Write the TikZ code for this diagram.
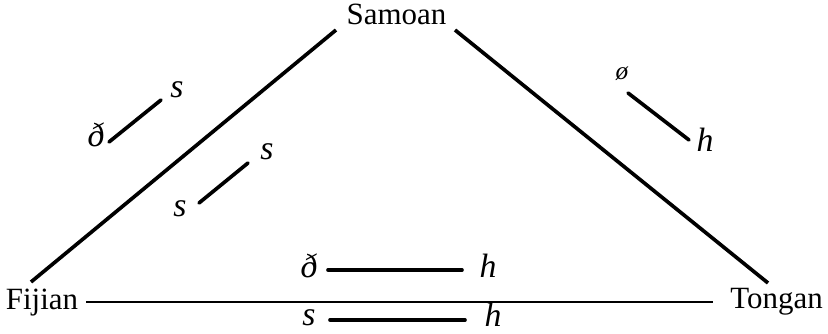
\documentclass[tikz,border=0pt]{standalone}
\usepackage{fontspec}
\setmainfont{Liberation Serif}
\usepackage{tikz}
\usetikzlibrary{positioning}
\tikzset{
  lang/.style={font=\fontsize{11}{13}\selectfont, inner sep=0pt, anchor=base},
  snd/.style={font=\fontsize{12}{14}\selectfont\itshape, inner sep=0pt, anchor=base},
  side/.style={line width=1.3pt},
  base/.style={line width=0.8pt},
  corr/.style={line width=1.3pt, line cap=round}
}

\begin{document}
\begin{tikzpicture}[x=0.0125cm, y=-0.0125cm]
\useasboundingbox (0,0) rectangle (828,334);
% languages
\node[lang] (samoan) at (396.5,25) {Samoan};
\node[lang] (fijian) at (42,310) {Fijian};
\node[lang] (tongan) at (776.5,309) {Tongan};
% triangle
\coordinate (sL) at (336,30);
\coordinate (fU) at (31,282);
\coordinate (sR) at (455,30);
\coordinate (tU) at (768,283);
\coordinate (fR) at (86,302);
\coordinate (tL) at (713,302);
\draw[side] (sL) -- (fU);
\draw[side] (sR) -- (tU);
\draw[base] (fR) -- (tL);
% Fijian - Samoan
\node[snd] (eth1) at (96,147) {ð};
\node[snd] (s1) at (177,98) {s};
\coordinate (a1) at (109,142);
\coordinate (a2) at (161,100);
\draw[corr] (a1) -- (a2);
\node[snd] (s2) at (180,217) {s};
\node[snd] (s3) at (267,160) {s};
\coordinate (b1) at (199,203);
\coordinate (b2) at (248,163);
\draw[corr] (b1) -- (b2);
% Samoan - Tongan
\node[snd, font=\fontsize{9}{11}\selectfont\itshape] (zero) at (622,80) {ø};
\node[snd] (h1) at (705,152) {h};
\coordinate (c1) at (628,93);
\coordinate (c2) at (689,140);
\draw[corr] (c1) -- (c2);
% Fijian - Tongan
\node[snd] (eth2) at (309,277) {ð};
\node[snd] (h2) at (488,277) {h};
\coordinate (d1) at (328,270);
\coordinate (d2) at (462,270);
\draw[corr] (d1) -- (d2);
\node[snd] (s4) at (309,326) {s};
\node[snd] (h3) at (493,327) {h};
\coordinate (e1) at (330,320);
\coordinate (e2) at (465,320);
\draw[corr] (e1) -- (e2);
\end{tikzpicture}
\end{document}
